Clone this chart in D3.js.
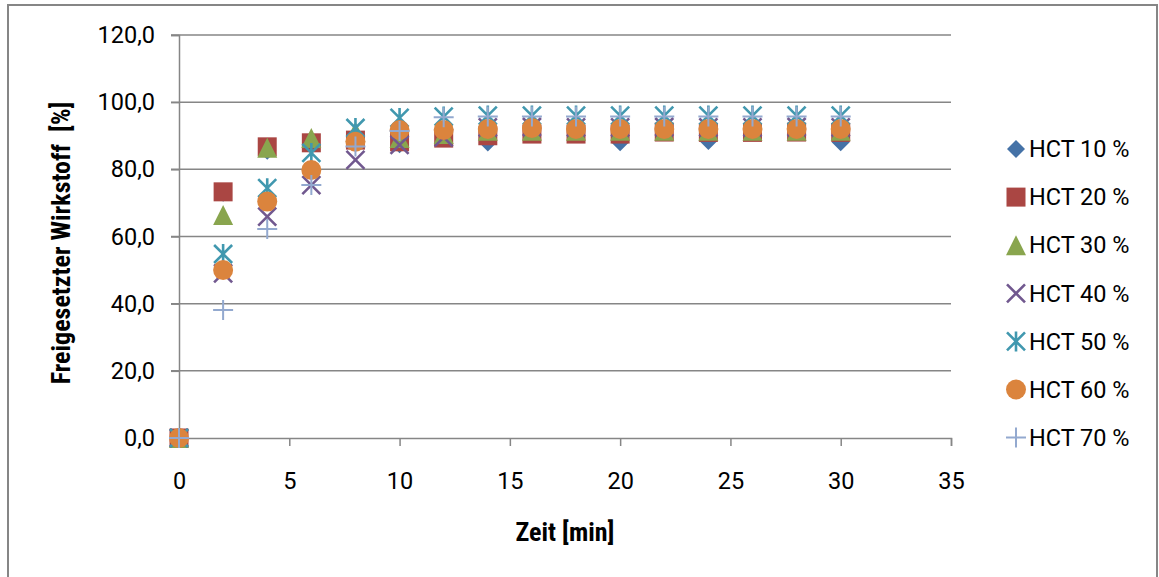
<!DOCTYPE html>
<html>
<head>
<meta charset="utf-8">
<script src="https://cdn.jsdelivr.net/npm/d3@7"></script>
<style>
  body { margin: 0; background: #fff; }
  svg { display: block; }
</style>
</head>
<body>
<svg id="chart" width="1159" height="577"></svg>
<script>
// Zeitpunkte (min)
const zeit = [0, 2, 4, 6, 8, 10, 12, 14, 16, 18, 20, 22, 24, 26, 28, 30];
// Serien, Werte in %
const serien = ["HCT 10 %", "HCT 20 %", "HCT 30 %", "HCT 40 %", "HCT 50 %", "HCT 60 %", "HCT 70 %"];
const hct10 = [0, 73.0, 85.5, 88.0, 89.0, 87.5, 90.0, 88.0, 91.5, 91.5, 88.1, 91.5, 88.4, 91.5, 91.5, 88.1];
const hct20 = [0, 73.3, 86.7, 87.9, 88.7, 88.2, 89.3, 90.0, 90.5, 90.5, 90.5, 91.1, 91.0, 91.0, 91.1, 91.0];
const hct30 = [0, 66.4, 86.4, 89.3, 91.2, 89.3, 90.5, 91.5, 91.5, 91.5, 91.5, 91.5, 91.5, 91.5, 91.5, 91.5];
const hct40 = [0, 49.0, 65.9, 75.3, 82.8, 87.3, 89.5, 92.5, 92.6, 92.5, 92.5, 92.6, 92.5, 92.5, 92.6, 92.5];
const hct50 = [0, 54.8, 74.4, 84.9, 92.3, 95.3, 95.7, 96.0, 96.0, 96.0, 96.0, 96.0, 96.0, 96.0, 96.0, 96.0];
const hct60 = [0, 50.0, 70.4, 79.8, 88.2, 91.7, 91.7, 92.0, 92.3, 92.0, 92.0, 92.0, 92.0, 92.0, 92.0, 92.0];
const hct70 = [0, 38.1, 62.2, 75.3, 86.8, 91.4, 95.5, 95.7, 95.7, 95.7, 95.7, 95.7, 95.7, 95.7, 95.7, 95.7];
const werte = [hct10, hct20, hct30, hct40, hct50, hct60, hct70];
const xTicks = [0, 5, 10, 15, 20, 25, 30, 35];
const yTicks = [0, 20, 40, 60, 80, 100, 120];

const farben = ["#4572A7", "#AA4643", "#89A54E", "#71588F", "#4198AF", "#DB843D", "#93A9CF"];
const formen = ["diamond", "square", "triangle", "x", "star", "circle", "plus"];

const svg = d3.select("#chart");
const grau = "#868686";

// Rahmen
svg.append("rect")
    .attr("x", 8).attr("y", 5)
    .attr("width", 1149).attr("height", 580)
    .attr("fill", "none").attr("stroke", grau).attr("stroke-width", 2);

const x = d3.scaleLinear().domain([0, 35]).range([179, 951]);
const y = d3.scaleLinear().domain([0, 120]).range([438, 35]);

const fontTick = "Roboto, 'Liberation Sans', sans-serif";
const fontTitle = "'Liberation Sans Narrow', 'Roboto Condensed', 'Arial Narrow', Roboto, sans-serif";

// Gitterlinien
svg.append("g").selectAll("line")
    .data(yTicks.slice(1))
    .join("line")
    .attr("x1", x(0) - 8).attr("x2", x(35))
    .attr("y1", d => y(d)).attr("y2", d => y(d))
    .attr("stroke", grau).attr("stroke-width", 1.5);

// y-Achse
const yAxis = svg.append("g")
    .attr("transform", `translate(${x(0)},0)`)
    .call(d3.axisLeft(y).tickValues(yTicks).tickSize(8).tickPadding(16)
        .tickFormat(d => d3.format(".1f")(d).replace(".", ",")));
yAxis.select(".domain").attr("stroke", grau).attr("stroke-width", 1.5);
yAxis.selectAll(".tick line").attr("stroke", grau).attr("stroke-width", 1.5);
yAxis.selectAll("text").attr("font-family", fontTick).attr("font-size", 23.5).attr("fill", "#000");

// x-Achse
const xAxis = svg.append("g")
    .attr("transform", `translate(0,${y(0)})`)
    .call(d3.axisBottom(x).tickValues(xTicks).tickSize(8).tickPadding(26));
xAxis.select(".domain").attr("stroke", grau).attr("stroke-width", 1.5);
xAxis.selectAll(".tick line").attr("stroke", grau).attr("stroke-width", 1.5);
xAxis.selectAll("text").attr("font-family", fontTick).attr("font-size", 23.5).attr("fill", "#000");

// Achsentitel
svg.append("text")
    .attr("x", 565).attr("y", 541)
    .attr("text-anchor", "middle")
    .attr("font-family", fontTitle).attr("font-weight", "bold").attr("font-size", 26)
    .text("Zeit [min]");

svg.append("text")
    .attr("transform", "translate(70,243) rotate(-90)")
    .attr("text-anchor", "middle")
    .attr("font-family", fontTitle).attr("font-weight", "bold").attr("font-size", 26)
    .attr("xml:space", "preserve")
    .text("Freigesetzter Wirkstoff  [%]");

// Markerformen
function marker(sel, form, farbe) {
    if (form === "diamond") {
        sel.append("path").attr("d", "M0,-9L9,0L0,9L-9,0Z").attr("fill", farbe);
    } else if (form === "square") {
        sel.append("rect").attr("x", -9.5).attr("y", -9.5).attr("width", 19).attr("height", 19).attr("fill", farbe);
    } else if (form === "triangle") {
        sel.append("path").attr("d", "M0,-10L10,10L-10,10Z").attr("fill", farbe);
    } else if (form === "x") {
        sel.append("path").attr("d", "M-9,-9L9,9M9,-9L-9,9").attr("stroke", farbe).attr("stroke-width", 2.6).attr("fill", "none");
    } else if (form === "star") {
        sel.append("path").attr("d", "M-9,-9L9,9M9,-9L-9,9M0,-10L0,10").attr("stroke", farbe).attr("stroke-width", 2.6).attr("fill", "none");
    } else if (form === "circle") {
        sel.append("circle").attr("r", 10).attr("fill", farbe);
    } else if (form === "plus") {
        sel.append("path").attr("d", "M-10,0L10,0M0,-10L0,10").attr("stroke", farbe).attr("stroke-width", 2).attr("fill", "none");
    }
}

// Datenpunkte
serien.forEach((name, i) => {
    svg.append("g")
        .selectAll("g")
        .data(zeit.map((t, j) => ({ t: t, v: werte[i][j] })))
        .join("g")
        .attr("transform", d => `translate(${x(d.t)},${y(d.v)})`)
        .each(function() { marker(d3.select(this), formen[i], farben[i]); });
});

// Legende
const legende = svg.append("g")
    .selectAll("g")
    .data(serien)
    .join("g")
    .attr("transform", (d, i) => `translate(1016,${149 + i * 48.1})`);
legende.each(function(d, i) { marker(d3.select(this), formen[i], farben[i]); });
legende.append("text")
    .attr("x", 13).attr("dy", "0.35em")
    .attr("font-family", fontTick).attr("font-size", 23.5).attr("fill", "#000")
    .text(d => d);
</script>
</body>
</html>
